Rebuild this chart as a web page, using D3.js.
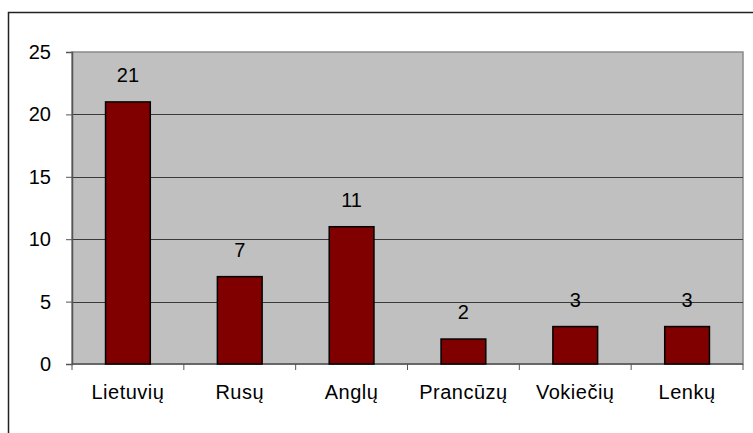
<!DOCTYPE html>
<html>
  <meta charset="utf-8">
  <head>
    <script src="https://d3js.org/d3.v7.min.js"></script>
    <style>
      body { margin: 0; background: #fff; }
      text { font-family: "Liberation Sans", Arial, sans-serif; fill: #000; }
    </style>
  </head>
  <body>
    <div id="viz"></div>

    <script type="text/javascript">
      // data
      var categories = ["Lietuvių", "Rusų", "Anglų", "Prancūzų", "Vokiečių", "Lenkų"];
      var values = [21, 7, 11, 2, 3, 3];
      var yTicks = [0, 5, 10, 15, 20, 25];

      var W = 753, H = 433;
      var margin = {top: 52, left: 72};
      var width = 743 - margin.left;
      var height = 364 - margin.top;

      var svg = d3.select("#viz")
        .append("svg")
          .attr("width", W)
          .attr("height", H);

      // outer chart frame (runs off the right and bottom edge)
      svg.append("path")
        .attr("d", "M8.5," + (H + 5) + "V12.5H" + (W + 5))
        .attr("fill", "none")
        .attr("stroke", "#222")
        .attr("stroke-width", 1.5);

      var g = svg.append("g")
        .attr("transform", "translate(" + margin.left + "," + margin.top + ")");

      var x = d3.scaleBand()
        .domain(categories)
        .range([0, width])
        .paddingInner(0.6)
        .paddingOuter(0.3);

      var y = d3.scaleLinear()
        .domain([0, 25])
        .range([height, 0]);

      // plot area
      g.append("rect")
        .attr("width", width)
        .attr("height", height)
        .attr("fill", "#c0c0c0")
        .attr("stroke", "#8a8a8a")
        .attr("stroke-width", 1.5);

      // gridlines
      g.selectAll(".grid")
        .data(yTicks.filter((d) => d > 0 && d < 25))
        .enter()
        .append("line")
          .attr("x1", 0)
          .attr("x2", width)
          .attr("y1", (d) => Math.round(y(d)) + 0.5)
          .attr("y2", (d) => Math.round(y(d)) + 0.5)
          .attr("stroke", "#3a3a3a")
          .attr("stroke-width", 1);

      // Y axis
      var yAxis = g.append("g")
        .call(d3.axisLeft(y).tickValues(yTicks).tickSize(6).tickPadding(15));
      yAxis.select(".domain").attr("stroke", "#555").attr("stroke-width", 1.5);
      yAxis.selectAll(".tick line").attr("stroke", "#555");
      yAxis.selectAll("text")
        .style("font-size", "20px")
        .attr("fill", "#000");

      // X axis: ticks sit on the category boundaries
      var boundaries = d3.range(categories.length + 1).map((i) => i * width / categories.length);
      g.append("line")
        .attr("x1", 0).attr("x2", width)
        .attr("y1", height).attr("y2", height)
        .attr("stroke", "#555").attr("stroke-width", 1.5);
      g.selectAll(".xtick")
        .data(boundaries)
        .enter()
        .append("line")
          .attr("x1", (d) => d).attr("x2", (d) => d)
          .attr("y1", height).attr("y2", height + 6)
          .attr("stroke", "#555");

      g.selectAll(".xlabel")
        .data(categories)
        .enter()
        .append("text")
          .attr("x", (d) => x(d) + x.bandwidth() / 2)
          .attr("y", height + 35)
          .attr("text-anchor", "middle")
          .style("font-size", "20px")
          .style("letter-spacing", "0.5px")
          .text((d) => d);

      // Bars
      g.selectAll("mybar")
        .data(values)
        .enter()
        .append("rect")
          .attr("x", (d, i) => x(categories[i]))
          .attr("y", (d) => y(d))
          .attr("width", x.bandwidth())
          .attr("height", (d) => height - y(d))
          .attr("fill", "#800000")
          .attr("stroke", "#000")
          .attr("stroke-width", 1.5);

      // value labels
      g.selectAll(".vlabel")
        .data(values)
        .enter()
        .append("text")
          .attr("x", (d, i) => x(categories[i]) + x.bandwidth() / 2)
          .attr("y", (d) => y(d) - 20)
          .attr("text-anchor", "middle")
          .style("font-size", "20px")
          .text((d) => d);
    </script>
  </body>
</html>
